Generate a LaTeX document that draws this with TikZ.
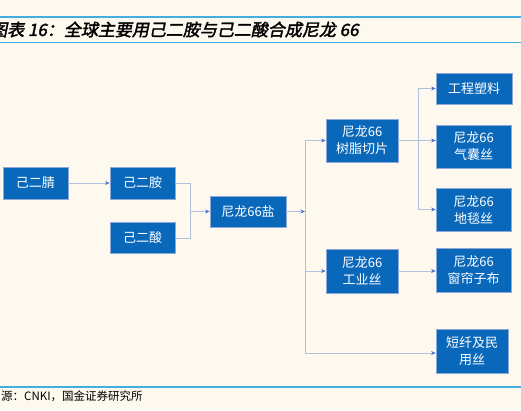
\documentclass[tikz,border=0pt]{standalone}
\usepackage{fontspec}
\setmainfont{Noto Sans CJK SC}
\newfontfamily\titlefont[FakeSlant=0.2,FakeBold=2]{Noto Sans CJK SC}
\usetikzlibrary{arrows.meta,positioning,calc}
\definecolor{bgcream}{HTML}{FDF9EF}
\definecolor{boxblue}{HTML}{0A68BB}
\definecolor{boxedge}{HTML}{8FA8DA}
\definecolor{linkgray}{HTML}{B3C0DD}
\definecolor{tipblue}{HTML}{4A6FD0}
\definecolor{rulecyan}{HTML}{45AEE0}

\begin{document}
\begin{tikzpicture}[x=1pt,y=-1pt,
  prod/.style={draw=boxedge,fill=boxblue,text=white,line width=0.8pt,inner sep=0pt,
    align=center,font=\fontsize{13}{17}\selectfont},
  link/.style={draw=linkgray,line width=1pt},
  flow/.style={link,-{Stealth[length=4.5pt,width=4pt,color=tipblue]}}]
\clip (0,0) rectangle (521,410);
\fill[bgcream] (0,0) rectangle (521,410);
\draw[rulecyan,line width=1.3pt] (0,17)--(521,17);
\draw[rulecyan,line width=1.6pt] (0,42.5)--(521,42.5);
\draw[rulecyan,line width=1.6pt] (0,387)--(521,387);
\node[anchor=west,inner sep=0pt,font=\titlefont\fontsize{17}{19}\selectfont] (title) at (-10,29.5) {图表 16：全球主要用己二胺与己二酸合成尼龙 66};
\node[anchor=west,inner sep=0pt,font=\fontsize{11.5}{13}\selectfont] (src) at (1,396.5) {源：CNKI，国金证券研究所};

\node[prod,minimum width=65pt,minimum height=32pt] (jing) at (35.5,183) {己二腈};
\node[prod,minimum width=65pt,minimum height=32pt] (an) at (142.5,183) {己二胺};
\node[prod,minimum width=65pt,minimum height=31pt] (suan) at (142.5,238) {己二酸};
\node[prod,minimum width=76pt,minimum height=31pt] (yan) at (248,211.5) {尼龙66盐};
\node[prod,minimum width=72pt,minimum height=43pt] (qiepian) at (362,140.5) {尼龙66\\树脂切片};
\node[prod,minimum width=72pt,minimum height=44pt] (gongye) at (362,271) {尼龙66\\工业丝};
\node[prod,minimum width=76pt,minimum height=31pt] (suliao) at (474,88.5) {工程塑料};
\node[prod,minimum width=75pt,minimum height=43pt] (qinang) at (473.5,146.5) {尼龙66\\气囊丝};
\node[prod,minimum width=75pt,minimum height=43pt] (ditan) at (473.5,209.5) {尼龙66\\地毯丝};
\node[prod,minimum width=75pt,minimum height=44pt] (chuanglian) at (473.5,270) {尼龙66\\窗帘子布};
\node[prod,minimum width=72pt,minimum height=44pt] (duanxian) at (472,351) {短纤及民\\用丝};

\coordinate (j1) at (190,211.5);
\coordinate (j2) at (305,211.5);
\coordinate (j3) at (418,140.5);

\draw[flow] (jing) -- (an);
\draw[link] (an.east) -| (j1);
\draw[link] (suan.east) -| (j1);
\draw[flow] (j1) -- (yan.west);
\draw[flow] (yan.east) -- (j2);
\draw[flow] (j2) |- (qiepian.west);
\draw[flow] (j2) |- (gongye.west);
\draw[flow] (j2) |- ($(duanxian.west)+(0,2)$);
\draw[flow] (qiepian.east) -- (qiepian.east -| qinang.west);
\draw[flow] (j3) |- (suliao.west);
\draw[flow] (j3) |- (ditan.west);
\draw[flow] (gongye.east) -- (gongye.east -| chuanglian.west);
\end{tikzpicture}
\end{document}
